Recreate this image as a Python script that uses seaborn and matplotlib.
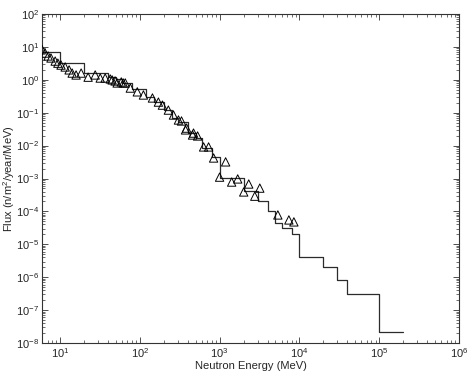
import numpy as np
import pandas as pd
import seaborn as sns
import matplotlib
matplotlib.use("Agg")
import matplotlib.pyplot as plt
from matplotlib.ticker import LogLocator, NullFormatter

# step spectrum (bin edges in MeV, flux per bin)
bin_edges = [6, 10, 20, 40, 50, 60, 80, 120, 150, 200, 250, 300, 400, 500,
             600, 800, 1000, 2000, 3000, 4000, 5000, 6000, 8000, 1e4,
             2e4, 3e4, 4e4, 1e5, 2e5]
bin_flux = [7.0, 3.2, 1.6, 1.25, 1.05, 0.80, 0.53, 0.30, 0.21, 0.12, 0.069,
            0.052, 0.025, 0.017, 0.0085, 0.0045, 1.05e-3, 4.2e-4, 2.1e-4,
            1.0e-4, 4.4e-5, 3.2e-5, 2.1e-5, 4.1e-6, 2.0e-6, 8.2e-7, 3.1e-7,
            2.2e-8]

# measured points (triangles)
meas_energy = [5.9, 6.5, 7.1, 7.7, 8.7, 9.4, 10.3, 11.6, 13, 14.2, 15.9, 18.4,
               22.5, 27.6, 31.9, 36.8, 42.6, 49, 58.6, 65.7, 45, 52, 62, 76,
               93, 111, 144, 171, 192, 228, 264, 305, 333, 374, 385, 458, 471,
               530, 630, 728, 841, 1000, 1190, 1416, 1686, 2005, 2318, 2760,
               3190, 5370, 7380, 8530]
meas_flux = [8.6, 6.5, 5.3, 4.6, 3.7, 3.2, 2.8, 2.45, 2.0, 1.6, 1.4, 1.6,
             1.2, 1.4, 1.13, 1.13, 1.06, 0.92, 0.86, 0.80, 0.99, 0.80, 0.80,
             0.56, 0.43, 0.345, 0.28, 0.21, 0.17, 0.12, 0.085, 0.06, 0.056,
             0.030, 0.034, 0.021, 0.024, 0.0196, 0.0091, 0.0091, 0.0042,
             0.0011, 0.0032, 7.8e-4, 9.7e-4, 3.9e-4, 6.8e-4, 2.9e-4, 5.1e-4,
             7.8e-5, 5.5e-5, 4.8e-5]

sns.set_style("ticks")
plt.rcParams["font.family"] = ["Liberation Sans", "DejaVu Sans"]
plt.rcParams["mathtext.fontset"] = "custom"
plt.rcParams["mathtext.rm"] = "Liberation Sans"
plt.rcParams["mathtext.it"] = "Liberation Sans:italic"
plt.rcParams["mathtext.bf"] = "Liberation Sans:bold"

step_df = pd.DataFrame({"energy": bin_edges,
                        "flux": bin_flux + [bin_flux[-1]]})
meas_df = pd.DataFrame({"energy": meas_energy, "flux": meas_flux})

fig = plt.figure(figsize=(4.71, 3.75), dpi=100)
ax = fig.add_axes([0.0892, 0.0853, 0.8853, 0.8774])

sns.lineplot(data=step_df, x="energy", y="flux", ax=ax, estimator=None,
             drawstyle="steps-post", color="#2b2b2b", linewidth=0.9)
sns.scatterplot(data=meas_df, x="energy", y="flux", ax=ax, marker="^",
                s=36, facecolor="none", edgecolor="black", linewidth=0.7,
                zorder=3)

ax.set_xscale("log")
ax.set_yscale("log")
ax.set_xlim(5.95, 1e6)
ax.set_ylim(1e-8, 1e2)

ax.xaxis.set_major_locator(LogLocator(base=10, numticks=20))
ax.xaxis.set_minor_locator(LogLocator(base=10, subs=np.arange(2, 10), numticks=50))
ax.yaxis.set_major_locator(LogLocator(base=10, numticks=20))
ax.yaxis.set_minor_locator(LogLocator(base=10, subs=np.arange(2, 10), numticks=50))
ax.xaxis.set_minor_formatter(NullFormatter())
ax.yaxis.set_minor_formatter(NullFormatter())

ax.tick_params(which="both", direction="in", top=True, right=True,
               labelsize=8, color="#333333", pad=2)
ax.tick_params(which="major", length=4, width=0.6)
ax.tick_params(which="minor", length=2, width=0.5)
for sp in ax.spines.values():
    sp.set_linewidth(0.8)
    sp.set_color("#333333")

ax.set_xlabel("Neutron Energy (MeV)", fontsize=8)
ax.set_ylabel("Flux (n/m$^2$/year/MeV)", fontsize=8)
ax.xaxis.set_label_coords(0.5, -0.056)
ax.yaxis.set_label_coords(-0.06, 0.5)

fig.savefig("out.png", dpi=100)
